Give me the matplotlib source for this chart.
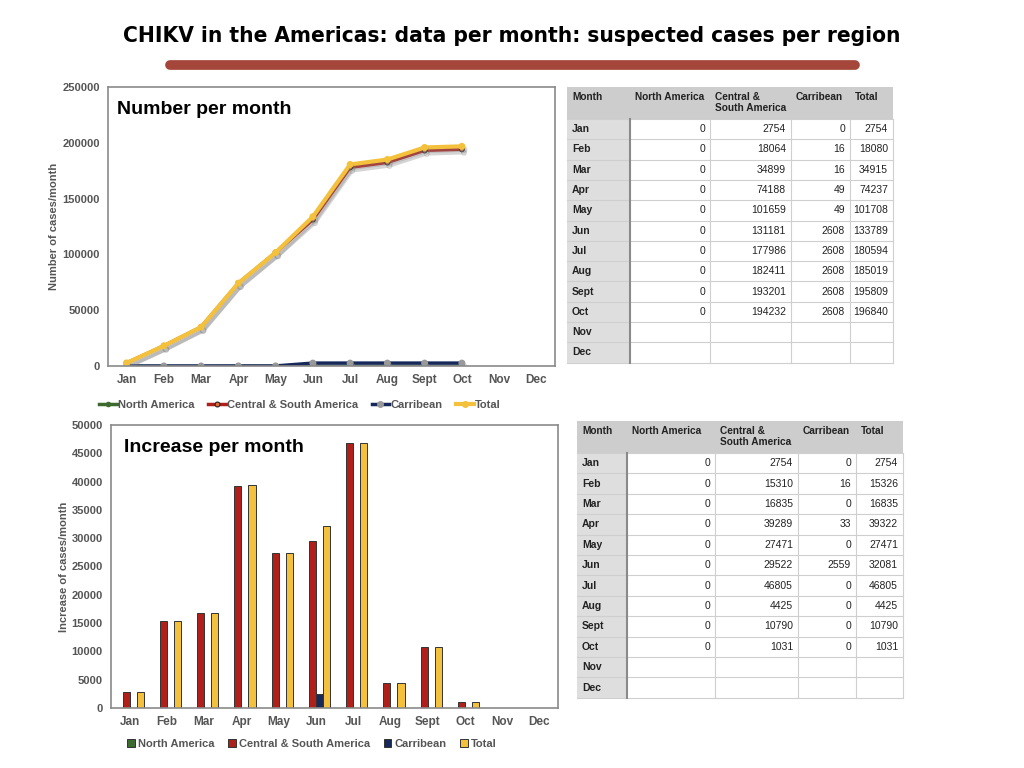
import matplotlib
matplotlib.use("Agg")
import matplotlib.pyplot as plt
import matplotlib.patheffects as pe
from matplotlib.patches import Rectangle
from matplotlib.lines import Line2D
import numpy as np

plt.rcParams['font.family'] = ['Liberation Sans', 'DejaVu Sans']

months = ['Jan', 'Feb', 'Mar', 'Apr', 'May', 'Jun', 'Jul', 'Aug', 'Sept', 'Oct', 'Nov', 'Dec']
series_names = ['North America', 'Central & South America', 'Carribean', 'Total']

# cumulative suspected cases (Jan..Oct)
cum_north = [0, 0, 0, 0, 0, 0, 0, 0, 0, 0]
cum_central = [2754, 18064, 34899, 74188, 101659, 131181, 177986, 182411, 193201, 194232]
cum_carib = [0, 16, 16, 49, 49, 2608, 2608, 2608, 2608, 2608]
cum_total = [2754, 18080, 34915, 74237, 101708, 133789, 180594, 185019, 195809, 196840]

# increase per month (Jan..Oct)
inc_north = [0, 0, 0, 0, 0, 0, 0, 0, 0, 0]
inc_central = [2754, 15310, 16835, 39289, 27471, 29522, 46805, 4425, 10790, 1031]
inc_carib = [0, 16, 0, 33, 0, 2559, 0, 0, 0, 0]
inc_total = [2754, 15326, 16835, 39322, 27471, 32081, 46805, 4425, 10790, 1031]

colors = ['#3d6b2f', '#b0201b', '#16295a', '#f3c13c']
tick_gray = '#555555'

fig = plt.figure(figsize=(10.24, 7.68), dpi=100)
fig.patch.set_facecolor('white')


def style_axes(ax):
    for s in ax.spines.values():
        s.set_color('#8a8a8a')
        s.set_linewidth(1.2)
    ax.tick_params(length=0, labelsize=8, colors=tick_gray, pad=6)
    for lab in ax.get_xticklabels() + ax.get_yticklabels():
        lab.set_fontweight('bold')
    ax.set_xlim(-0.5, 11.5)
    ax.set_xticks(range(12))
    ax.set_xticklabels(months, fontweight='bold', fontsize=8.5, color=tick_gray)


# ---- top chart: number per month
ax1 = fig.add_axes([108 / 1024, 1 - 366 / 768, 447 / 1024, 279 / 768])
x = np.arange(len(cum_total))
shadow = [pe.SimpleLineShadow(offset=(1.5, -2.5), shadow_color='#888888', alpha=0.35), pe.Normal()]
line_styles = [
    dict(color=colors[0], lw=2.5, marker='o', ms=3, mfc=colors[0], mec=colors[0]),
    dict(color=colors[1], lw=2.5, marker='o', ms=3.5, mfc='#e07030', mec='#222222', mew=0.8),
    dict(color=colors[2], lw=2.5, marker='o', ms=4, mfc='#999999', mec='#999999'),
    dict(color=colors[3], lw=3, marker='o', ms=4, mfc=colors[3], mec=colors[3]),
]
cum_all = [cum_north, cum_central, cum_carib, cum_total]
handles = []
for vals, st in zip(cum_all, line_styles):
    ax1.plot(x, vals, path_effects=shadow, **st)
    handles.append(Line2D([], [], **st))
ax1.set_ylim(0, 250000)
ax1.set_yticks(range(0, 250001, 50000))
style_axes(ax1)
ax1.set_ylabel('Number of cases/month', fontsize=8, color=tick_gray, fontweight='bold', labelpad=2)
ax1.text(0.02, 0.95, 'Number per month', transform=ax1.transAxes, fontsize=14,
         fontweight='bold', va='top', ha='left')
fig.legend(handles, series_names, loc='center', ncol=4,
           bbox_to_anchor=(300 / 1024, 1 - 405 / 768), frameon=False,
           handlelength=1.6, handletextpad=0.1, columnspacing=1.2,
           labelcolor=tick_gray, prop={'weight': 'bold', 'size': 8})

# ---- bottom chart: increase per month
ax2 = fig.add_axes([111 / 1024, 1 - 708 / 768, 447 / 1024, 283 / 768])
w = 0.19
inc_all = [inc_north, inc_central, inc_carib, inc_total]
bars = []
for i, vals in enumerate(inc_all):
    b = ax2.bar(x + (i - 1.5) * w, vals, width=w, color=colors[i],
                edgecolor='#333333', linewidth=0.7)
    bars.append(b)
ax2.set_ylim(0, 50000)
ax2.set_yticks(range(0, 50001, 5000))
style_axes(ax2)
ax2.set_ylabel('Increase of cases/month', fontsize=8, color=tick_gray, fontweight='bold', labelpad=2)
ax2.text(0.03, 0.95, 'Increase per month', transform=ax2.transAxes, fontsize=14,
         fontweight='bold', va='top', ha='left')
fig.legend(bars, series_names, loc='center', ncol=4,
           bbox_to_anchor=(312 / 1024, 1 - 744 / 768), frameon=False,
           handlelength=0.7, handleheight=0.7, handletextpad=0.3, columnspacing=1.2,
           labelcolor=tick_gray, prop={'weight': 'bold', 'size': 8})

# ---- overlay in pixel coordinates for title, rule and tables
ov = fig.add_axes([0, 0, 1, 1], zorder=-1)
ov.set_xlim(0, 1024)
ov.set_ylim(768, 0)
ov.axis('off')

fig.text(0.5, 1 - 36 / 768, 'CHIKV in the Americas: data per month: suspected cases per region',
         ha='center', va='center', fontsize=16.2, fontweight='bold',
         family='DejaVu Sans', stretch='condensed')
ov.plot([170, 855], [65, 65], color='#a4473a', lw=7, solid_capstyle='round')

headers = ['Month', 'North America', 'Central &\nSouth America', 'Carribean', 'Total']


def draw_table(col_edges, y_top, header_h, row_h, cols):
    x0, x1 = col_edges[0], col_edges[-1]
    ov.add_patch(Rectangle((x0, y_top), x1 - x0, header_h, facecolor='#cdcdcd', edgecolor='none'))
    body_top = y_top + header_h
    ov.add_patch(Rectangle((x0, body_top), col_edges[1] - x0, row_h * 12,
                           facecolor='#dedede', edgecolor='none'))
    for j, h in enumerate(headers):
        ov.text(col_edges[j] + 5, y_top + 5, h, fontsize=7.3, fontweight='bold',
                va='top', ha='left', color='#222222', linespacing=1.1)
    for r in range(13):
        yy = body_top + r * row_h
        ov.plot([x0, x1], [yy, yy], color='#cfcfcf', lw=0.8)
    for c in col_edges[2:]:
        ov.plot([c, c], [body_top, body_top + 12 * row_h], color='#cfcfcf', lw=0.8)
    ov.plot([col_edges[1], col_edges[1]], [body_top, body_top + 12 * row_h], color='#8a8a8a', lw=1.5)
    for r, m in enumerate(months):
        yc = body_top + (r + 0.5) * row_h
        ov.text(x0 + 5, yc, m, fontsize=7.5, fontweight='bold', va='center', ha='left', color='#222222')
        if r < len(cols[0]):
            for j, col in enumerate(cols):
                ov.text(col_edges[j + 2] - 5, yc, str(col[r]), fontsize=7.5,
                        va='center', ha='right', color='#222222')


draw_table([567, 630, 710, 791, 850, 893], 87, 32, 20.3,
           [cum_north, cum_central, cum_carib, cum_total])
draw_table([577, 627, 715, 798, 856, 903], 421, 32, 20.4,
           [inc_north, inc_central, inc_carib, inc_total])

fig.savefig('out.png', dpi=100)
